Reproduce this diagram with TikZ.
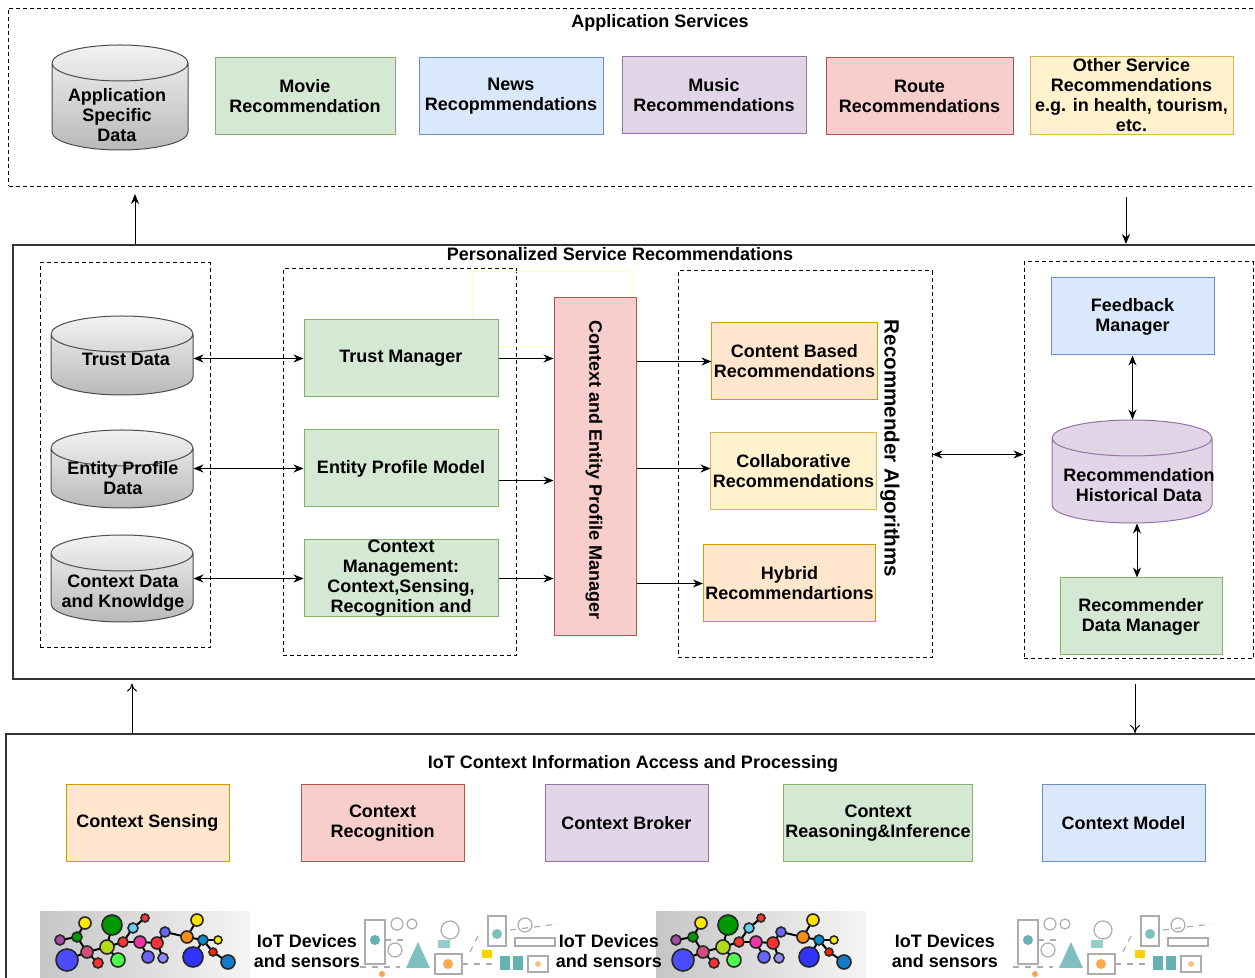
\documentclass[tikz,border=0pt]{standalone}
\usepackage{fontspec}
\setmainfont{Liberation Sans}
\usetikzlibrary{shapes.geometric,arrows.meta}

\definecolor{grfill}{HTML}{D5E8D4}\definecolor{grline}{HTML}{82B366}
\definecolor{blfill}{HTML}{DAE8FC}\definecolor{blline}{HTML}{6C8EBF}
\definecolor{pufill}{HTML}{E1D5E7}\definecolor{puline}{HTML}{9673A6}
\definecolor{rdfill}{HTML}{F8CECC}\definecolor{rdline}{HTML}{B85450}
\definecolor{ylfill}{HTML}{FFF2CC}\definecolor{ylline}{HTML}{D6B656}
\definecolor{orfill}{HTML}{FFE6CC}\definecolor{orline}{HTML}{D79B00}

\tikzset{
  box/.style={draw, rectangle, line width=0.5pt, align=center, minimum height=38.5pt, inner sep=1pt},
  greenbox/.style={box, fill=grfill, draw=grline},
  bluebox/.style={box, fill=blfill, draw=blline},
  purplebox/.style={box, fill=pufill, draw=puline},
  redbox/.style={box, fill=rdfill, draw=rdline},
  yellowbox/.style={box, fill=ylfill, draw=ylline},
  orangebox/.style={box, fill=orfill, draw=orline},
  dbcyl/.style={cylinder, shape border rotate=90, aspect=2.7, anchor=shape center,
    draw=gray!60!black, line width=0.5pt, top color=gray!10, bottom color=gray!55},
  grp/.style={draw, dash pattern=on 2pt off 1.5pt, line width=0.5pt},
  layer/.style={draw=black!80, line width=0.8pt, anchor=north west},
}

% network of coloured device bubbles
\newcommand\iotnet[2]{%
  \begin{scope}[shift={#2}]
    \fill[left color=gray!45, right color=gray!8] (0,0) rectangle (210,66);
    \foreach \i/\x/\y in {1/20/28,2/37/25,3/45/11,4/27/48,5/47/40,6/58/51,7/67/35,8/72/13,
        9/78/48,10/83/30,11/93/16,12/105/6,13/100/30,14/117/31,15/108/45,16/123/46,17/125/20,
        18/157/8,19/147/25,20/163/28,21/153/45,22/178/28,23/173/40,24/188/50}
      \coordinate (#1-\i) at (\x,\y);
    \foreach \a/\b in {1/2,2/3,2/5,4/5,5/6,5/7,7/8,7/9,7/10,10/11,11/12,10/13,13/14,13/15,
        14/16,14/17,17/19,19/18,19/20,20/21,20/22,20/23,23/24}
      \draw[line width=1pt] (#1-\a) -- (#1-\b);
    \foreach \i/\r/\c in {1/5/violet!70,2/5/green!60!black,3/6/yellow!90!orange,4/11/blue!70,
        5/6/purple!70,6/5/red!80,7/7/yellow!70!green,8/10/green!60!black,9/7/green!70,10/5/red!80,
        11/5/cyan!60,12/4/red!80,13/6/magenta!80,14/6/red!80,15/6/blue!60,16/5/blue!45,17/5/blue!60,
        18/6/yellow!85!orange,19/6/orange!90,20/5/cyan!70!blue,21/10/blue!80,22/4/yellow,
        23/4/red!70!orange,24/7/cyan!60!blue}
      \filldraw[fill=\c, draw=black!85, line width=0.8pt] (#1-\i) circle[radius=\r];
  \end{scope}}

% line-art sketch of sensors and devices
\newcommand\iotart[1]{%
  \begin{scope}[shift={#1}, color=gray!65, line width=0.6pt]
    \draw (5,8) rectangle (25,52); \fill[teal!60] (15,28) circle[radius=5];
    \draw (37,12) circle[radius=6]; \draw (52,12) circle[radius=5];
    \draw (35,38) circle[radius=7]; \draw (90,18) circle[radius=9];
    \fill[teal!50] (58,30) -- (46,56) -- (70,56) -- cycle;
    \draw (75,42) rectangle (102,62); \fill[orange!70] (88,52) circle[radius=5];
    \fill[teal!40] (78,28) rectangle (90,36);
    \draw (128,4) rectangle (146,34); \fill[teal!50] (137,22) circle[radius=5];
    \draw (165,13) circle[radius=7]; \draw (155,26) rectangle (195,34);
    \fill[teal!60] (140,44) rectangle (150,58); \fill[teal!60] (153,44) rectangle (163,58);
    \draw (168,44) rectangle (188,60); \fill[orange!50] (178,52) circle[radius=3];
    \fill[yellow!70!orange] (122,38) rectangle (132,46);
    \draw[dashed] (25,28) -- (45,28); \draw[dashed] (102,52) -- (138,52);
    \draw[dashed] (150,18) -- (198,12); \draw[dashed] (0,55) -- (40,55);
    \draw[dashed] (110,40) -- (120,20);
    \fill[orange!70] (22,62) circle[radius=3];
  \end{scope}}

\begin{document}
\begin{tikzpicture}[x=0.5pt,y=-0.5pt,>={Stealth[length=5pt,width=4pt]},line width=0.5pt,
    every node/.style={font=\bfseries\fontsize{9}{10}\selectfont}]
\clip (0,0) rectangle (1255,978);

% application services layer
\node[grp, minimum width=627pt, minimum height=89pt, anchor=north west] (appsvc) at (8,8) {};
\node (appsvcttl) at (660,23) {Application Services};
\node[dbcyl, minimum width=68pt, minimum height=52.5pt] (appdb) at (120,97.5) {};
\node (appdbtxt) at (117,115) [align=center] {Application\\Specific\\Data};
\node[greenbox, minimum width=90pt] (movie) at (305,96.5) {Movie\\Recommendation};
\node[bluebox, minimum width=92pt] (news) at (511,96.5) {News\\Recopmmendations};
\node[purplebox, minimum width=92pt] (music) at (714,95.5) {Music\\Recommendations};
\node[redbox, minimum width=93.5pt] (route) at (919.5,96.5) {Route\\Recommendations};
\node[yellowbox, minimum width=101.5pt] (other) at (1131.5,95.5)
  {Other Service\\Recommendations\\e.g. in health, tourism,\\etc.};

% personalized service recommendations layer
\node[layer, minimum width=625pt, minimum height=217pt] (psr) at (12,244) {};
\node (psrttl) at (620,254) {Personalized Service Recommendations};

\node[grp, minimum width=85pt, minimum height=192.5pt] (datagrp) at (125,455.5) {};
\node[grp, minimum width=116.5pt, minimum height=193.5pt] (mgrgrp) at (399.5,462.5) {};
\node[grp, minimum width=127pt, minimum height=193.5pt] (algogrp) at (805,464.5) {};
\node[grp, minimum width=114.5pt, minimum height=198.5pt] (fbgrp) at (1138.5,460.5) {};
\draw[yellow!25] (472,272) rectangle (633,347);

\node[dbcyl, minimum width=71pt, minimum height=39.5pt] (trustdb) at (122,355.5) {};
\node (trustdbtxt) at (126,359) {Trust Data};
\node[dbcyl, minimum width=71pt, minimum height=39pt] (entdb) at (122,469) {};
\node (entdbtxt) at (123,478) [align=center] {Entity Profile\\Data};
\node[dbcyl, minimum width=71pt, minimum height=43.5pt] (ctxdb) at (122,578.5) {};
\node (ctxdbtxt) at (123,593) [align=center] {Context Data\\and Knowldge};

\node[greenbox, minimum width=97pt] (trustmgr) at (401,358.5) {Trust Manager};
\node[greenbox, minimum width=97pt] (epm) at (401,468.5) {Entity Profile Model};
\node[greenbox, minimum width=97pt, inner ysep=0pt] (ctxmgmt) at (401,578.5)
  {Context\\Management:\\Context,Sensing,\\Recognition and};

\node[redbox, minimum width=41pt, minimum height=169pt] (cepm) at (595,467) {};
\node[rotate=-90] (cepmtxt) at (594,470) {Context and Entity Profile Manager};

\node[orangebox, minimum width=81.5pt] (cbr) at (794.5,361.5) {Content Based\\Recommendations};
\node[yellowbox, minimum width=81.5pt] (colr) at (793.5,471.5) {Collaborative\\Recommendations};
\node[orangebox, minimum width=81.5pt] (hybr) at (789.5,583.5) {Hybrid\\Recommendartions};
\node[rotate=-90, font=\bfseries\fontsize{10.3}{12}\selectfont] (algottl) at (890,448.5)
  {Recommender Algorithms};

\node[bluebox, minimum width=81.5pt] (fbm) at (1132.5,316.5) {Feedback\\Manager};
\node[dbcyl, draw=puline, top color=pufill, bottom color=pufill, minimum width=80pt,
  minimum height=51.5pt] (rhd) at (1132,471.5) {};
\node (rhdtxt) at (1139,485) [align=center] {Recommendation\\Historical Data};
\node[greenbox, minimum width=81pt] (rdm) at (1141,616.5) {Recommender\\Data Manager};

\draw[<->] (trustdb.east |- trustmgr.west) -- (trustmgr.west);
\draw[<->] (entdb.east |- epm.west) -- (epm.west);
\draw[<->] (ctxdb.east |- ctxmgmt.west) -- (ctxmgmt.west);

\draw[->] (trustmgr.east) -- (trustmgr.east -| cepm.west);
\draw[->] ([yshift=-6pt]epm.east) -- ([yshift=-6pt]epm.east -| cepm.west);
\draw[->] (ctxmgmt.east) -- (ctxmgmt.east -| cepm.west);

\draw[->] (cbr.west -| cepm.east) -- (cbr.west);
\draw[->] ([yshift=1.5pt]colr.west -| cepm.east) -- ([yshift=1.5pt]colr.west);
\draw[->] (hybr.west -| cepm.east) -- (hybr.west);

\draw[<->] ([yshift=5pt]algogrp.east) -- ([yshift=5pt]algogrp.east -| fbgrp.west);
\draw[<->] (fbm.south) -- (fbm.south |- rhd.north);
\draw[<->] ([xshift=2.5pt]rhd.south) -- ([xshift=2.5pt]rhd.south |- rdm.north);

% links between the layers
\coordinate (upL) at (135,0);
\coordinate (downR) at (1126,0);
\coordinate (upB) at (132,0);
\coordinate (downB) at (1135,0);
\draw[->] (upL |- psr.north) -- ([yshift=-3.5pt]upL |- appsvc.south);
\draw[->] ([yshift=-5pt]downR |- appsvc.south) -- (downR |- psr.north);

% iot context layer
\node[layer, minimum width=630pt, minimum height=125pt] (iot) at (5,733) {};
\node (iotttl) at (633,764) {IoT Context Information Access and Processing};
\draw[->,>={To[length=4pt,width=5pt]}] (upB |- iot.north) -- ([yshift=-2pt]upB |- psr.south);
\draw[->,>={To[length=4pt,width=5pt]}] ([yshift=-2pt]downB |- psr.south) -- (downB |- iot.north);

\node[orangebox, minimum width=81.5pt] (sense) at (147.5,823) {Context Sensing};
\node[redbox, minimum width=81.5pt] (recog) at (382.5,823) {Context\\Recognition};
\node[purplebox, minimum width=81.5pt] (broker) at (626.5,823) {Context Broker};
\node[greenbox, minimum width=89pt] (reason) at (878,823) {Context\\Reasoning\&Inference};
\node[bluebox, minimum width=81.5pt] (cmodel) at (1123.5,823) {Context Model};

\iotnet{netA}{(40,912)}
\iotart{(360,912)}
\iotnet{netB}{(656,912)}
\iotart{(1013,912)}
\node (devA) at (307,951) [align=center] {IoT Devices\\and sensors};
\node (devB) at (609,951) [align=center] {IoT Devices\\and sensors};
\node (devC) at (945,951) [align=center] {IoT Devices\\and sensors};
\end{tikzpicture}
\end{document}
